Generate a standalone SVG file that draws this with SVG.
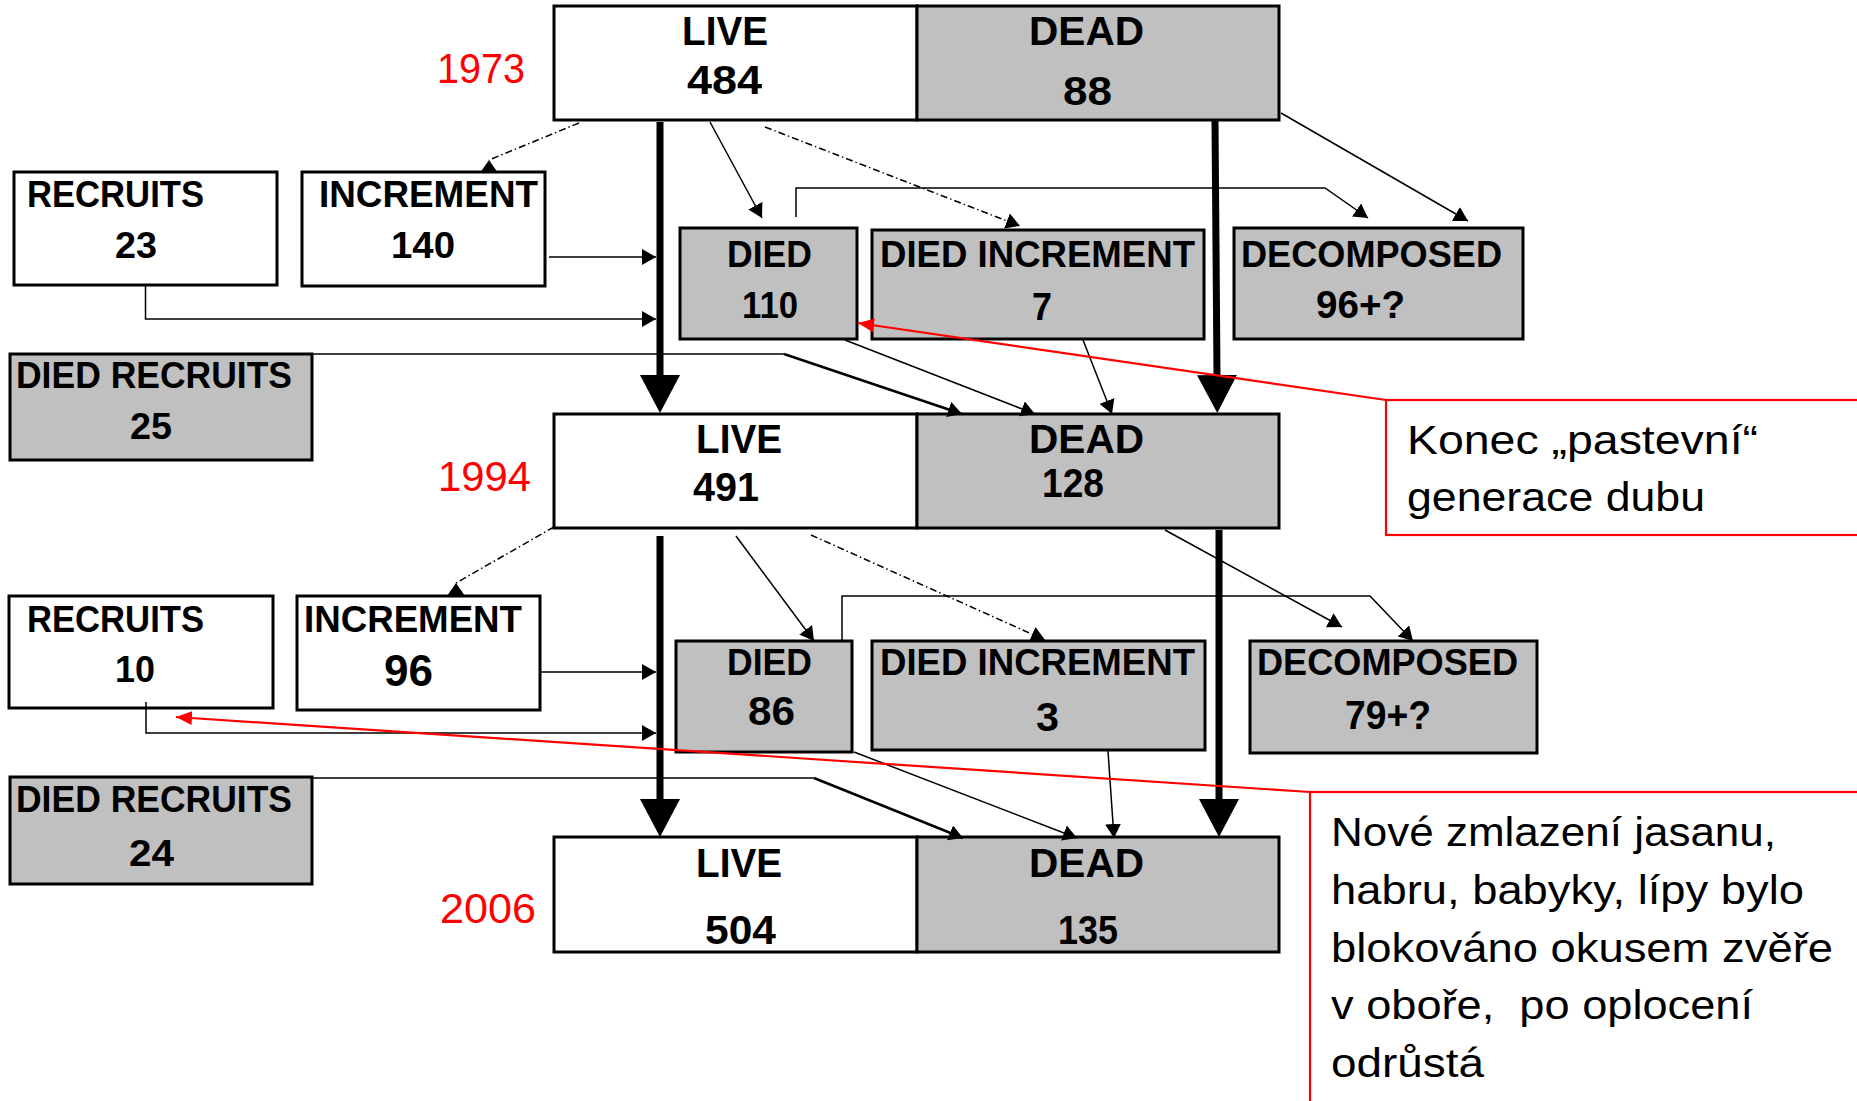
<svg xmlns="http://www.w3.org/2000/svg" width="1857" height="1101" viewBox="0 0 1857 1101">
<style>
.w{fill:#fff;stroke:#000;stroke-width:3}
.g{fill:#c0c0c0;stroke:#000;stroke-width:3}
.t{font-family:"Liberation Sans",Arial,sans-serif;font-weight:bold;fill:#000}
.yr{font-family:"Liberation Sans",Arial,sans-serif;fill:#f00;font-size:42px}
.note{font-family:"Liberation Sans",Arial,sans-serif;fill:#000;font-size:40px}
.c{stroke:#000;stroke-width:1.5;fill:none}
.dd{stroke-dasharray:7 3 1.5 3}
.thick{stroke:#000;stroke-width:7;fill:none}
.bold2{stroke-width:2.5}
.red{stroke:#f00;stroke-width:2.2;fill:none}
.redbox{stroke:#f00;stroke-width:2.2;fill:#fff}
</style>
<defs>
<marker id="a" viewBox="0 0 10 10" refX="10" refY="5" markerWidth="14" markerHeight="16" markerUnits="userSpaceOnUse" orient="auto" preserveAspectRatio="none"><path d="M0,0 L10,5 L0,10 z" fill="#000"/></marker>
<marker id="up" viewBox="0 0 10 10" refX="10" refY="5" markerWidth="13" markerHeight="18" markerUnits="userSpaceOnUse" orient="270" preserveAspectRatio="none"><path d="M0,0 L10,5 L0,10 z" fill="#000"/></marker>
<marker id="big" viewBox="0 0 10 10" refX="0" refY="5" markerWidth="38" markerHeight="40" markerUnits="userSpaceOnUse" orient="auto" preserveAspectRatio="none"><path d="M0,0 L10,5 L0,10 z" fill="#000"/></marker>
<marker id="r" viewBox="0 0 10 10" refX="10" refY="5" markerWidth="16" markerHeight="14" markerUnits="userSpaceOnUse" orient="auto" preserveAspectRatio="none"><path d="M0,0 L10,5 L0,10 z" fill="#f00"/></marker>
</defs>

<!-- year labels -->
<text class="yr" x="437" y="83" textLength="88" lengthAdjust="spacingAndGlyphs">1973</text>
<text class="yr" x="438" y="491" textLength="93" lengthAdjust="spacingAndGlyphs">1994</text>
<text class="yr" x="440" y="923" textLength="96" lengthAdjust="spacingAndGlyphs">2006</text>

<!-- notes -->
<g id="note1">
<rect class="redbox" x="1386" y="400" width="520" height="135"/>
<text class="note" x="1407" y="454" textLength="351" lengthAdjust="spacingAndGlyphs">Konec „pastevní“</text>
<text class="note" x="1407" y="511" textLength="298" lengthAdjust="spacingAndGlyphs">generace dubu</text>
</g>
<g id="note2">
<rect class="redbox" x="1310" y="792" width="600" height="360"/>
<text class="note" x="1331" y="846" textLength="445" lengthAdjust="spacingAndGlyphs">Nové zmlazení jasanu,</text>
<text class="note" x="1331" y="904" textLength="473" lengthAdjust="spacingAndGlyphs">habru, babyky, lípy bylo</text>
<text class="note" x="1331" y="962" textLength="502" lengthAdjust="spacingAndGlyphs">blokováno okusem zvěře</text>
<text class="note" x="1331" y="1019" textLength="422" lengthAdjust="spacingAndGlyphs">v oboře,&#160; po oplocení</text>
<text class="note" x="1331" y="1077" textLength="153" lengthAdjust="spacingAndGlyphs">odrůstá</text>
</g>

<!-- 1973 -->
<g id="live1973"><rect class="w" x="554" y="6" width="363" height="114"/>
<text class="t" font-size="40" x="682" y="45" textLength="86" lengthAdjust="spacingAndGlyphs">LIVE</text>
<text class="t" font-size="40" x="687" y="94" textLength="75" lengthAdjust="spacingAndGlyphs">484</text></g>
<g id="dead1973"><rect class="g" x="917" y="6" width="362" height="114"/>
<text class="t" font-size="40" x="1029" y="45" textLength="115" lengthAdjust="spacingAndGlyphs">DEAD</text>
<text class="t" font-size="40" x="1063" y="105" textLength="49" lengthAdjust="spacingAndGlyphs">88</text></g>

<g id="recruits1"><rect class="w" x="14" y="172" width="263" height="113"/>
<text class="t" font-size="37" x="27" y="207" textLength="177" lengthAdjust="spacingAndGlyphs">RECRUITS</text>
<text class="t" font-size="36" x="115" y="258" textLength="42" lengthAdjust="spacingAndGlyphs">23</text></g>
<g id="increment1"><rect class="w" x="302" y="172" width="243" height="114"/>
<text class="t" font-size="37" x="319" y="207" textLength="219" lengthAdjust="spacingAndGlyphs">INCREMENT</text>
<text class="t" font-size="36" x="391" y="258" textLength="64" lengthAdjust="spacingAndGlyphs">140</text></g>
<g id="diedrecruits1"><rect class="g" x="10" y="354" width="302" height="106"/>
<text class="t" font-size="37" x="16" y="388" textLength="276" lengthAdjust="spacingAndGlyphs">DIED RECRUITS</text>
<text class="t" font-size="36" x="130" y="439" textLength="42" lengthAdjust="spacingAndGlyphs">25</text></g>
<g id="died1"><rect class="g" x="680" y="228" width="177" height="111"/>
<text class="t" font-size="37" x="727" y="267" textLength="85" lengthAdjust="spacingAndGlyphs">DIED</text>
<text class="t" font-size="36" x="742" y="318" textLength="56" lengthAdjust="spacingAndGlyphs">110</text></g>
<g id="diedinc1"><rect class="g" x="872" y="230" width="332" height="109"/>
<text class="t" font-size="37" x="880" y="267" textLength="315" lengthAdjust="spacingAndGlyphs">DIED INCREMENT</text>
<text class="t" font-size="38" x="1032" y="320" textLength="20" lengthAdjust="spacingAndGlyphs">7</text></g>
<g id="decomp1"><rect class="g" x="1234" y="228" width="289" height="111"/>
<text class="t" font-size="37" x="1241" y="267" textLength="261" lengthAdjust="spacingAndGlyphs">DECOMPOSED</text>
<text class="t" font-size="38" x="1316" y="318" textLength="89" lengthAdjust="spacingAndGlyphs">96+?</text></g>

<!-- 1994 -->
<g id="live1994"><rect class="w" x="554" y="414" width="363" height="114"/>
<text class="t" font-size="40" x="696" y="453" textLength="86" lengthAdjust="spacingAndGlyphs">LIVE</text>
<text class="t" font-size="40" x="693" y="501" textLength="66" lengthAdjust="spacingAndGlyphs">491</text></g>
<g id="dead1994"><rect class="g" x="917" y="414" width="362" height="114"/>
<text class="t" font-size="40" x="1029" y="453" textLength="115" lengthAdjust="spacingAndGlyphs">DEAD</text>
<text class="t" font-size="40" x="1042" y="497" textLength="62" lengthAdjust="spacingAndGlyphs">128</text></g>

<g id="recruits2"><rect class="w" x="9" y="596" width="264" height="112"/>
<text class="t" font-size="37" x="27" y="632" textLength="177" lengthAdjust="spacingAndGlyphs">RECRUITS</text>
<text class="t" font-size="36" x="115" y="682" textLength="40" lengthAdjust="spacingAndGlyphs">10</text></g>
<g id="increment2"><rect class="w" x="297" y="596" width="243" height="114"/>
<text class="t" font-size="37" x="304" y="632" textLength="218" lengthAdjust="spacingAndGlyphs">INCREMENT</text>
<text class="t" font-size="44" x="384" y="686" textLength="49" lengthAdjust="spacingAndGlyphs">96</text></g>
<g id="diedrecruits2"><rect class="g" x="10" y="777" width="302" height="107"/>
<text class="t" font-size="37" x="16" y="812" textLength="276" lengthAdjust="spacingAndGlyphs">DIED RECRUITS</text>
<text class="t" font-size="37" x="129" y="866" textLength="45" lengthAdjust="spacingAndGlyphs">24</text></g>
<g id="died2"><rect class="g" x="676" y="641" width="176" height="111"/>
<text class="t" font-size="37" x="727" y="675" textLength="85" lengthAdjust="spacingAndGlyphs">DIED</text>
<text class="t" font-size="40" x="748" y="725" textLength="47" lengthAdjust="spacingAndGlyphs">86</text></g>
<g id="diedinc2"><rect class="g" x="872" y="641" width="333" height="109"/>
<text class="t" font-size="37" x="880" y="675" textLength="315" lengthAdjust="spacingAndGlyphs">DIED INCREMENT</text>
<text class="t" font-size="40" x="1036" y="731" textLength="23" lengthAdjust="spacingAndGlyphs">3</text></g>
<g id="decomp2"><rect class="g" x="1250" y="641" width="287" height="112"/>
<text class="t" font-size="37" x="1257" y="675" textLength="261" lengthAdjust="spacingAndGlyphs">DECOMPOSED</text>
<text class="t" font-size="40" x="1345" y="729" textLength="86" lengthAdjust="spacingAndGlyphs">79+?</text></g>

<!-- 2006 -->
<g id="live2006"><rect class="w" x="554" y="837" width="363" height="115"/>
<text class="t" font-size="40" x="696" y="877" textLength="86" lengthAdjust="spacingAndGlyphs">LIVE</text>
<text class="t" font-size="40" x="705" y="944" textLength="71" lengthAdjust="spacingAndGlyphs">504</text></g>
<g id="dead2006"><rect class="g" x="917" y="837" width="362" height="115"/>
<text class="t" font-size="40" x="1029" y="877" textLength="115" lengthAdjust="spacingAndGlyphs">DEAD</text>
<text class="t" font-size="40" x="1058" y="944" textLength="60" lengthAdjust="spacingAndGlyphs">135</text></g>

<g id="connectors">
<!-- 1973 -> 1994 -->
<line class="thick" x1="660" y1="122" x2="660" y2="375" marker-end="url(#big)"/>
<line class="thick" x1="1215" y1="121" x2="1217" y2="375" marker-end="url(#big)"/>
<polyline class="c dd" points="579,123 489,160" marker-end="url(#up)"/>
<line class="c" x1="549" y1="257" x2="656" y2="257" marker-end="url(#a)"/>
<polyline class="c" points="145.5,285 145.5,319 656,319" marker-end="url(#a)"/>
<line class="c" x1="710" y1="122" x2="762" y2="218" marker-end="url(#a)"/>
<line class="c dd" x1="765" y1="127" x2="1020" y2="226" marker-end="url(#a)"/>
<polyline class="c" points="796,217 796,188 1325,188 1368,218" marker-end="url(#a)"/>
<line class="c" x1="1281" y1="113" x2="1468" y2="221" marker-end="url(#a)"/>
<polyline class="c" points="312,354 784,354"/>
<line class="c bold2" x1="784" y1="354" x2="962" y2="414" marker-end="url(#a)"/>
<line class="c" x1="845" y1="340" x2="1035" y2="414" marker-end="url(#a)"/>
<line class="c" x1="1083" y1="340" x2="1112" y2="414" marker-end="url(#a)"/>
<line class="red" x1="1386" y1="400" x2="858" y2="323" marker-end="url(#r)"/>
<!-- 1994 -> 2006 -->
<line class="thick" x1="660" y1="536" x2="660" y2="799" marker-end="url(#big)"/>
<line class="thick" x1="1219" y1="530" x2="1219" y2="799" marker-end="url(#big)"/>
<polyline class="c dd" points="554,527 456,583" marker-end="url(#up)"/>
<line class="c" x1="541" y1="672" x2="656" y2="672" marker-end="url(#a)"/>
<polyline class="c" points="146,702 146,733 656,733" marker-end="url(#a)"/>
<line class="c" x1="736" y1="536" x2="814" y2="641" marker-end="url(#a)"/>
<line class="c dd" x1="811" y1="535" x2="1045" y2="640" marker-end="url(#a)"/>
<polyline class="c" points="842,640 842,596 1370,596 1413,641" marker-end="url(#a)"/>
<line class="c" x1="1165" y1="530" x2="1342" y2="627" marker-end="url(#a)"/>
<polyline class="c" points="312,778 814,778"/>
<line class="c bold2" x1="814" y1="778" x2="963" y2="838" marker-end="url(#a)"/>
<line class="c" x1="854" y1="752" x2="1077" y2="838" marker-end="url(#a)"/>
<line class="c" x1="1108" y1="751" x2="1114" y2="838" marker-end="url(#a)"/>
<line class="red" x1="1310" y1="792" x2="176" y2="717" marker-end="url(#r)"/>
</g>
</svg>
